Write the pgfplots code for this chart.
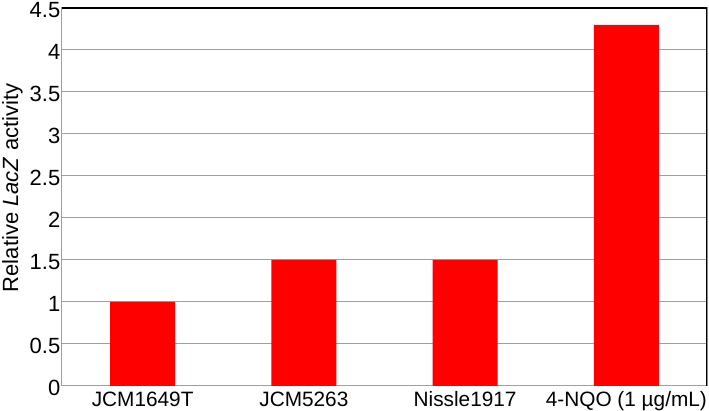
\documentclass[border=0pt]{standalone}
\usepackage{pgfplots}
\pgfplotsset{compat=1.18}
\usepackage{fontspec}
\setmainfont{Liberation Sans}
\begin{document}
\begin{tikzpicture}
\begin{axis}[
  at={(0,0)}, anchor=south west,
  scale only axis, width=645pt, height=378pt,
  xmin=-0.5, xmax=3.5, ymin=0, ymax=4.5,
  ytick={0,0.5,1,1.5,2,2.5,3,3.5,4,4.5},
  yticklabels={0,0.5,1,1.5,2,2.5,3,3.5,4,4.5},
  xtick=data,
  xticklabels={JCM1649T,JCM5263,Nissle1917,4-NQO (1 µg/mL)},
  major tick length=0pt,
  ymajorgrids,
  grid style={color=gray!75, line width=1pt},
  axis line style={color=gray!75, line width=1pt},
  /pgf/number format/assume math mode=true,
  xticklabel style={font=\fontsize{20.8}{24}\selectfont, anchor=north, inner sep=0pt, text height=15pt, text depth=5pt, yshift=-5pt},
  yticklabel style={font=\fontsize{22}{26}\selectfont, anchor=east, inner xsep=1.5pt, yshift=-2pt},
  ylabel={Relative \textit{LacZ} activity},
  ylabel style={font=\fontsize{22}{26}\selectfont, at={(axis description cs:-0.093,0.524)}, anchor=north, inner sep=0pt},
  ybar, bar width=0.404,
]
\addplot[fill=red, draw=none] coordinates {(0,1.0) (1,1.5) (2,1.5) (3,4.3)};
\draw[black, line width=1.4pt] (rel axis cs:0,1) -- (rel axis cs:1,1) -- (rel axis cs:1,0);
\end{axis}
\pgfresetboundingbox
\path (-62pt,-25pt) rectangle (647pt,386pt);
\end{tikzpicture}
\end{document}
